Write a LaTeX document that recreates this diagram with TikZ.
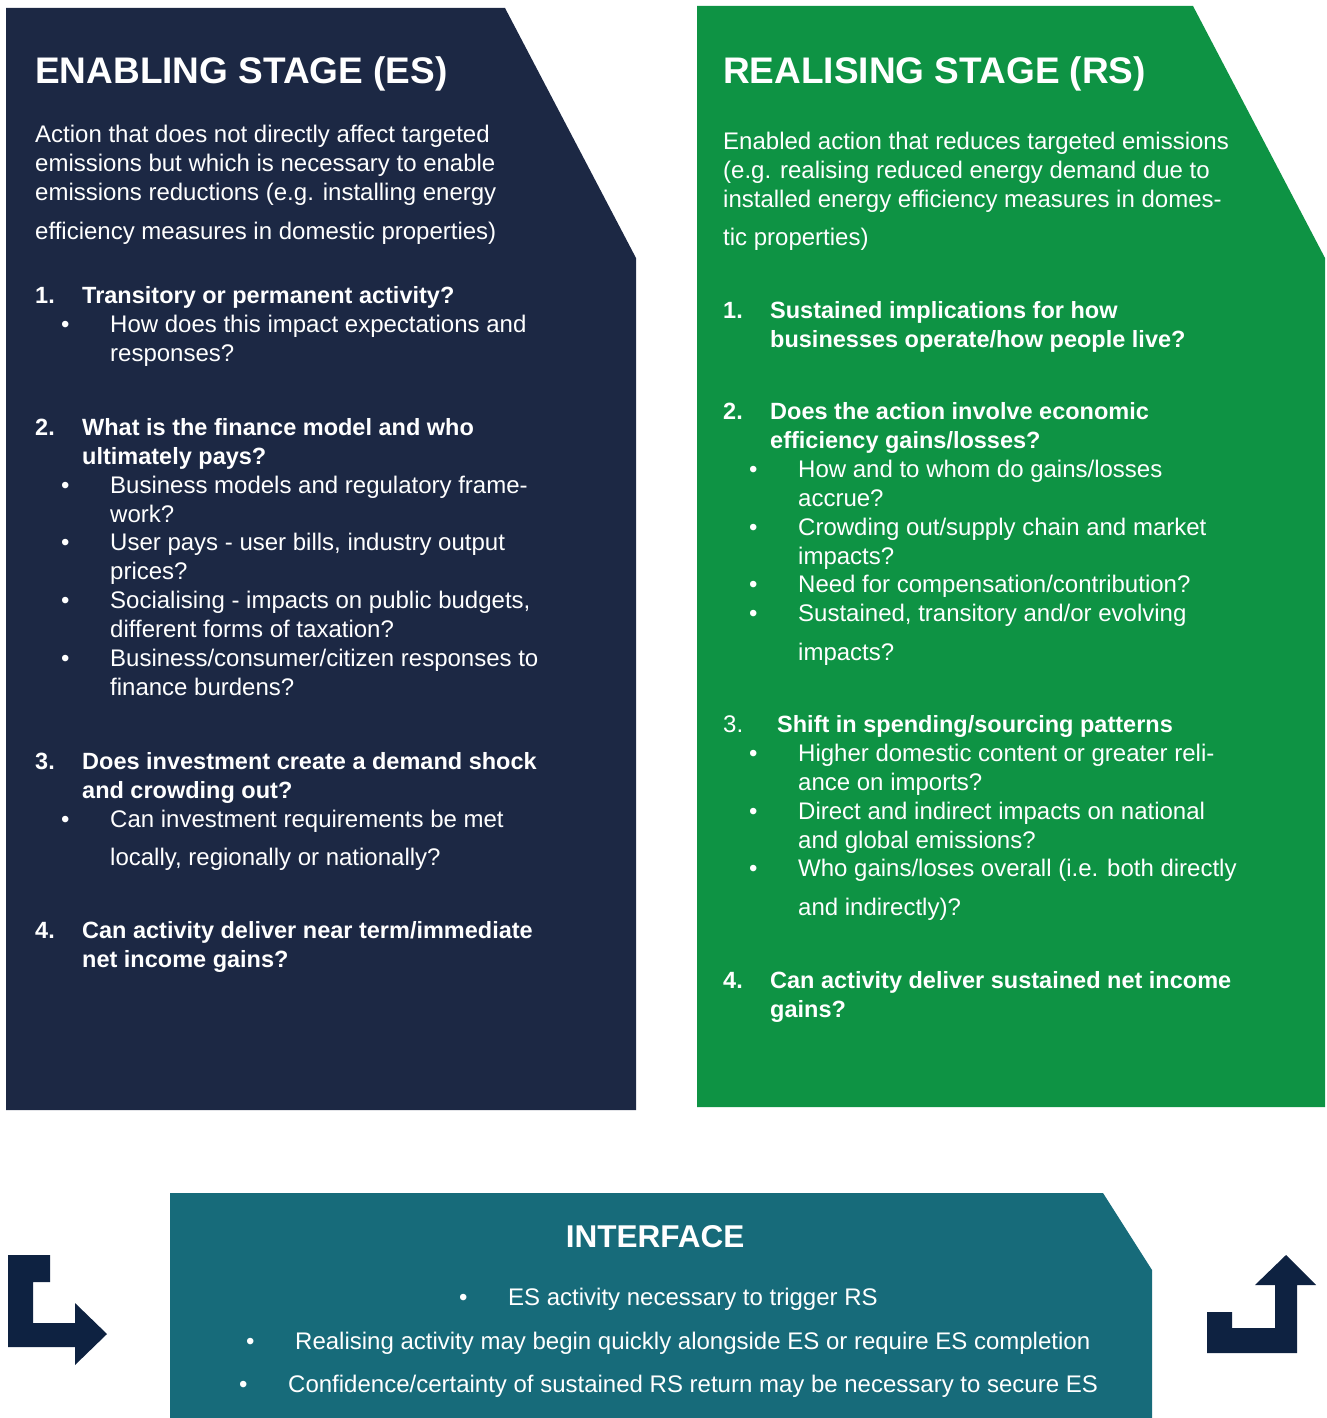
\documentclass[tikz,border=0pt]{standalone}
\usepackage{fontspec}
\setmainfont{Liberation Sans}
\definecolor{esblue}{HTML}{1C2844}
\definecolor{rsgreen}{HTML}{0E9344}
\definecolor{ifteal}{HTML}{176B7A}
\definecolor{arrowblue}{HTML}{0E2241}
% multi-line nodes sit on the baseline of their last line
\tikzset{
  txt/.style={text=white, anchor=base west, align=left, inner sep=0pt,
    font=\fontsize{24}{29}\selectfont},
  head/.style={txt, font=\fontsize{23.5}{29}\selectfont\bfseries},
  stagetitle/.style={txt, font=\fontsize{37}{44}\selectfont\bfseries},
  bul/.style={txt}
}
\begin{document}
\begin{tikzpicture}[x=1pt, y=-1pt]
  \useasboundingbox (0,0) rectangle (1326,1418);
  % panels
  \fill[esblue] (6,8) -- (505,8) -- (636,258) -- (636,1110) -- (6,1110) -- cycle;
  \fill[rsgreen] (697,6) -- (1193,6) -- (1325,258) -- (1325,1107) -- (697,1107) -- cycle;
  \fill[ifteal] (170,1193) -- (1103,1193) -- (1152,1270) -- (1152,1418) -- (170,1418) -- cycle;
  % arrows
  \fill[arrowblue] (8,1255) -- (50,1255) -- (50,1282) -- (33,1282) -- (33,1323) -- (75,1323)
    -- (75,1303) -- (107,1334) -- (75,1365) -- (75,1347) -- (8,1347) -- cycle;
  \fill[arrowblue] (1207,1312) -- (1232,1312) -- (1232,1328) -- (1275,1328) -- (1275,1285)
    -- (1255,1285) -- (1286,1255) -- (1316,1285) -- (1297,1285) -- (1297,1353) -- (1207,1353) -- cycle;

  % enabling stage
  \node[stagetitle] (es-title) at (35,84) {ENABLING STAGE (ES)};
  \node[txt] (es-intro) at (35,239) {Action that does not directly affect targeted\\
    emissions but which is necessary to enable\\
    emissions reductions (e.g. installing energy\\[10pt]
    efficiency measures in domestic properties)};
  \node[head] (es-n1) at (35,303) {1.};
  \node[head] (es-q1) at (82,303) {Transitory or permanent activity?};
  \node[bul] (es-b11) at (61,332) {•};
  \node[txt] (es-t11) at (110,361) {How does this impact expectations and\\ responses?};
  \node[head] (es-n2) at (35,435) {2.};
  \node[head] (es-q2) at (82,464) {What is the finance model and who\\ ultimately pays?};
  \node[bul] (es-b21) at (61,493) {•};
  \node[txt] (es-t21) at (110,522) {Business models and regulatory frame-\\ work?};
  \node[bul] (es-b22) at (61,550) {•};
  \node[txt] (es-t22) at (110,579) {User pays - user bills, industry output\\ prices?};
  \node[bul] (es-b23) at (61,608) {•};
  \node[txt] (es-t23) at (110,637) {Socialising - impacts on public budgets,\\ different forms of taxation?};
  \node[bul] (es-b24) at (61,666) {•};
  \node[txt] (es-t24) at (110,695) {Business/consumer/citizen responses to\\ finance burdens?};
  \node[head] (es-n3) at (35,769) {3.};
  \node[head] (es-q3) at (82,798) {Does investment create a demand shock\\ and crowding out?};
  \node[bul] (es-b31) at (61,827) {•};
  \node[txt] (es-t31) at (110,865) {Can investment requirements be met\\[9pt] locally, regionally or nationally?};
  \node[head] (es-n4) at (35,938) {4.};
  \node[head] (es-q4) at (82,967) {Can activity deliver near term/immediate\\ net income gains?};

  % realising stage
  \node[stagetitle] (rs-title) at (723,84) {REALISING STAGE (RS)};
  \node[txt] (rs-intro) at (723,245) {Enabled action that reduces targeted emissions\\
    (e.g. realising reduced energy demand due to\\
    installed energy efficiency measures in domes-\\[9pt]
    tic properties)};
  \node[head] (rs-n1) at (723,318) {1.};
  \node[head] (rs-q1) at (770,347) {Sustained implications for how\\ businesses operate/how people live?};
  \node[head] (rs-n2) at (723,419) {2.};
  \node[head] (rs-q2) at (770,448) {Does the action involve economic\\ efficiency gains/losses?};
  \node[bul] (rs-b21) at (749,477) {•};
  \node[txt] (rs-t21) at (798,506) {How and to whom do gains/losses\\ accrue?};
  \node[bul] (rs-b22) at (749,535) {•};
  \node[txt] (rs-t22) at (798,564) {Crowding out/supply chain and market\\ impacts?};
  \node[bul] (rs-b23) at (749,592) {•};
  \node[txt] (rs-t23) at (798,592) {Need for compensation/contribution?};
  \node[bul] (rs-b24) at (749,621) {•};
  \node[txt] (rs-t24) at (798,660) {Sustained, transitory and/or evolving\\[10pt] impacts?};
  \node[txt] (rs-n3) at (723,732) {3.};
  \node[head] (rs-q3) at (777,732) {Shift in spending/sourcing patterns};
  \node[bul] (rs-b31) at (749,761) {•};
  \node[txt] (rs-t31) at (798,790) {Higher domestic content or greater reli-\\ ance on imports?};
  \node[bul] (rs-b32) at (749,819) {•};
  \node[txt] (rs-t32) at (798,848) {Direct and indirect impacts on national\\ and global emissions?};
  \node[bul] (rs-b33) at (749,876) {•};
  \node[txt] (rs-t33) at (798,915) {Who gains/loses overall (i.e. both directly\\[10pt] and indirectly)?};
  \node[head] (rs-n4) at (723,988) {4.};
  \node[head] (rs-q4) at (770,1017) {Can activity deliver sustained net income\\ gains?};

  % interface
  \node[txt, anchor=base, font=\fontsize{31.5}{37}\selectfont\bfseries] (if-title) at (655,1247) {INTERFACE};
  \node[bul] (if-b1) at (459,1305) {•};
  \node[txt] (if-t1) at (508,1305) {ES activity necessary to trigger RS};
  \node[bul] (if-b2) at (246,1349) {•};
  \node[txt] (if-t2) at (295,1349) {Realising activity may begin quickly alongside ES or require ES completion};
  \node[bul] (if-b3) at (239,1392) {•};
  \node[txt] (if-t3) at (288,1392) {Confidence/certainty of sustained RS return may be necessary to secure ES};
\end{tikzpicture}
\end{document}
